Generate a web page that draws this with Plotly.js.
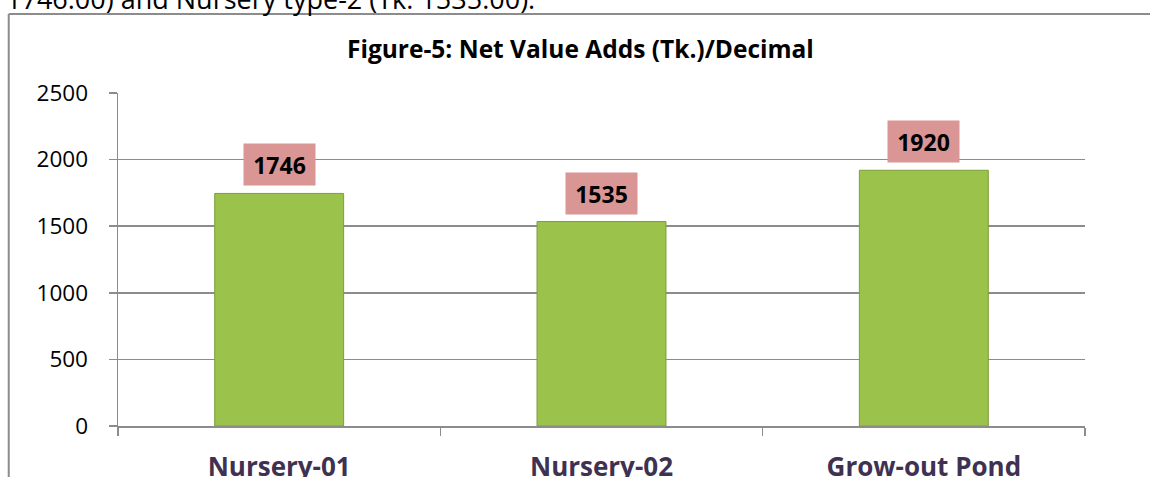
<!DOCTYPE html>
<html>
<head>
<meta charset="utf-8">
<script src="https://cdn.plot.ly/plotly-3.0.1.min.js"></script>
<style>
  html, body { margin: 0; padding: 0; background: #fff; }
  #chart { width: 1150px; height: 477px; }
</style>
</head>
<body>
<div id="chart"></div>
<script>
// ---- data ----
const categories = ["Nursery-01", "Nursery-02", "Grow-out Pond"];
const netValueAdds = [1746, 1535, 1920];
const yTickValues = [0, 500, 1000, 1500, 2000, 2500];
const chartTitle = "Figure-5: Net Value Adds (Tk.)/Decimal";
const bodyTextLine = "1746.00) and Nursery type-2 (Tk. 1535.00).";

const FONT = "'Open Sans', 'Noto Sans', sans-serif";
const GRID = "#8c8c8c";

const traces = [{
  type: "bar",
  x: categories,
  y: netValueAdds,
  width: 0.4,
  marker: { color: "#9BC24B", line: { color: "#7E9E3A", width: 1 } },
  hoverinfo: "skip"
}];

const annotations = categories.map((c, i) => ({
  x: c, y: netValueAdds[i], xref: "x", yref: "y",
  text: "<b>" + netValueAdds[i] + "</b>",
  showarrow: false, yanchor: "bottom", xanchor: "center",
  yshift: 7, width: 71, height: 41,
  bgcolor: "#D99694", borderpad: 0,
  font: { family: FONT, size: 23, color: "#000" }
}));

annotations.push({
  text: "<b>" + chartTitle + "</b>",
  xref: "paper", yref: "paper", x: 0.478, y: 1.135,
  xanchor: "center", yanchor: "middle", showarrow: false,
  font: { family: FONT, size: 24.5, color: "#000" }
});
annotations.push({
  text: bodyTextLine,
  xref: "paper", yref: "paper", x: -0.118, y: 1.221,
  xanchor: "left", yanchor: "bottom", showarrow: false,
  font: { family: FONT, size: 27, color: "#000" }
});

const layout = {
  width: 1150, height: 477,
  margin: { l: 118, r: 65, t: 93, b: 51, pad: 0 },
  paper_bgcolor: "#fff", plot_bgcolor: "#fff",
  showlegend: false,
  bargap: 0.6,
  xaxis: {
    type: "category",
    showline: true, linecolor: GRID, linewidth: 1.5,
    ticks: "outside", tickson: "boundaries", ticklen: 8, tickcolor: GRID, tickwidth: 1.5,
    showgrid: false,
    tickfont: { family: FONT, size: 26, color: "#3F3151", weight: "bold" },
    ticklabelstandoff: 17,
    fixedrange: true
  },
  yaxis: {
    range: [0, 2500], tickvals: yTickValues,
    showline: true, linecolor: GRID, linewidth: 1.5,
    ticks: "outside", ticklen: 8, tickcolor: GRID, tickwidth: 1.5,
    showgrid: true, gridcolor: GRID, gridwidth: 1.5,
    zeroline: false,
    tickfont: { family: FONT, size: 22.5, color: "#000" },
    ticklabelstandoff: 16,
    fixedrange: true
  },
  annotations: annotations,
  shapes: [
    { type: "line", xref: "paper", yref: "paper", x0: -0.113, x1: 1.1, y0: 1.237, y1: 1.237,
      line: { color: "#8c8c8c", width: 2 } },
    { type: "line", xref: "paper", yref: "paper", x0: -0.113, x1: -0.113, y0: -0.2, y1: 1.237,
      line: { color: "#8c8c8c", width: 2 } }
  ]
};

Plotly.newPlot("chart", traces, layout, { displayModeBar: false, staticPlot: true });
</script>
</body>
</html>
